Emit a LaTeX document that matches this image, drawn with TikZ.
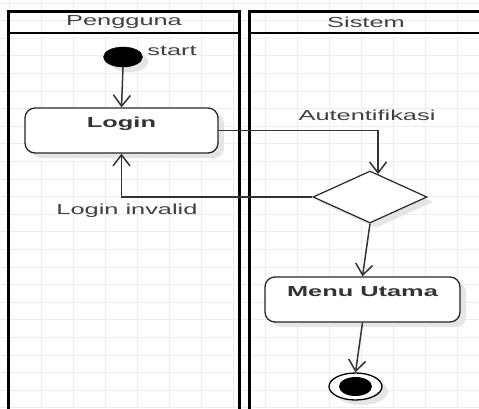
\documentclass[tikz,border=0pt]{standalone}
\usepackage{fontspec}
\setmainfont{Liberation Sans}[FakeStretch=1.75]
\usetikzlibrary{arrows.meta,shapes.geometric,shadows,calc}
\begin{document}
\begin{tikzpicture}[x=1pt,y=-1pt,
  gridline/.style={draw=gray!14,line width=0.7pt},
  lane/.style={draw=black,line width=3pt},
  hdr/.style={draw=black,line width=2pt},
  txt/.style={font=\fontsize{14.5}{17}\selectfont,text=black!75,inner sep=0pt},
  shad/.style={drop shadow={shadow xshift=6pt,shadow yshift=-5pt,fill=black!10,opacity=1}},
  act/.style={draw=black!85,line width=1.3pt,rounded corners=10pt,fill=white,
    inner sep=0pt,text height=19pt,text depth=26pt,
    font=\fontsize{14.5}{17}\selectfont\bfseries,text=black!80,shad},
  decision/.style={diamond,draw=black!85,line width=1.2pt,fill=white,
    minimum width=114pt,minimum height=52pt,inner sep=0pt,shad},
  startnode/.style={ellipse,fill=black,draw=black,minimum width=39pt,minimum height=20pt,inner sep=0pt,shad},
  endouter/.style={ellipse,fill=white,draw=black,line width=1.3pt,minimum width=53pt,minimum height=27pt,inner sep=0pt,shad},
  endinner/.style={ellipse,fill=black,minimum width=33pt,minimum height=19pt,inner sep=0pt},
  conn/.style={draw=black!80,line width=1.5pt,-{Straight Barb[length=11pt,width=17pt,line width=1.5pt]}}
]
\useasboundingbox (0,0) rectangle (479,408);
\fill[white] (0,0) rectangle (479,408);
% background grid
\foreach \i in {0,...,14} { \draw[gridline] (9.7+32*\i,0) -- (9.7+32*\i,408); }
\foreach \j in {0,...,23} { \draw[gridline] (0,3+17.6*\j) -- (479,3+17.6*\j); }
% swimlanes
\draw[lane] (8.5,415) -- (8.5,11) -- (239,11) -- (239,415);
\draw[hdr] (8.5,33) -- (239,33);
\draw[lane] (249,415) -- (249,11) -- (490,11);
\draw[hdr] (249,33) -- (490,33);
\node[txt] (lane1) at (124,22) {Pengguna};
\node[txt] (lane2) at (366,22) {Sistem};
% nodes
\node[startnode] (start) at (123,57) {};
\node[txt] (startlbl) at (172,51) {start};
\node[act,minimum width=193pt] (login) at (121.5,130.5) {Login};
\node[decision] (dec) at (370,197) {};
\path (dec.north) -- (dec.east) coordinate[pos=0.14] (decin);
\node[act,minimum width=195pt] (menu) at (362.5,299.5) {Menu Utama};
\node[endouter] (end) at (355.5,386.5) {};
\node[endinner] (endin) at (end) {};
% labels
\node[txt] (auth) at (367,115) {Autentifikasi};
\node[txt] (inv) at (127,211) {Login invalid};
% connectors
\draw[conn] (start.south) -- (login.north);
\draw[conn] (login.east) -| (decin);
\draw[conn] (dec.west) -| (login.south);
\draw[conn] (dec.south) -- (menu.north);
\draw[conn] (menu.south) -- (end.north);
\end{tikzpicture}
\end{document}
